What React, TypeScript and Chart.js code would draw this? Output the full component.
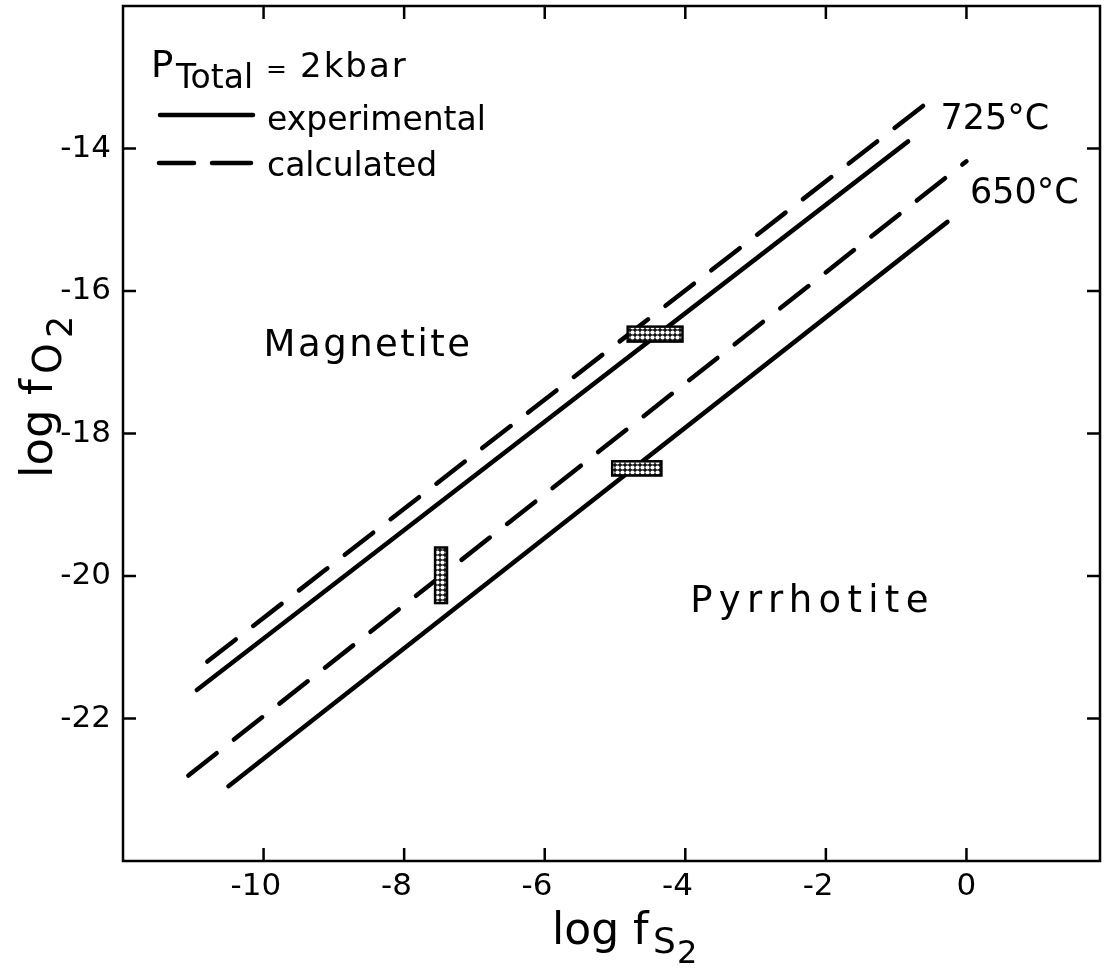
import React, { useEffect, useRef } from 'react';
import { Chart, registerables } from 'chart.js';

Chart.register(...registerables);

// ---------- data ----------
const xTickValues = [-10, -8, -6, -4, -2, 0];
const yTickValues = [-22, -20, -18, -16, -14];
const xMin = -12;
const xMax = 1.9;
const yMin = -24;
const yMax = -12;

// 725 °C
const exp725X = [-10.95, -0.83];
const exp725Y = [-21.6, -13.9];
const calc725X = [-10.8, -0.55];
const calc725Y = [-21.2, -13.35];
// 650 °C
const exp650X = [-10.5, -0.27];
const exp650Y = [-22.95, -15.03];
const calc650X = [-11.07, 0.0];
const calc650Y = [-22.8, -14.18];

// shaded experimental brackets
const boxXMin = [-4.82, -5.04, -7.56];
const boxXMax = [-4.04, -4.34, -7.39];
const boxYMin = [-16.71, -18.59, -20.38];
const boxYMax = [-16.5, -18.39, -19.6];

// in-plot labels
const regionLabels = ['Magnetite', 'Pyrrhotite'];
const regionX = [-10.0, -3.93];
const regionY = [-16.91, -20.5];
const regionSpacing = [2.5, 6.3];

const tempLabels = ['725°C', '650°C'];
const tempX = [-0.37, 0.05];
const tempY = [-13.6, -14.64];

const legendLabels = ['experimental', 'calculated'];

const FONT = '"DejaVu Sans", "Liberation Sans", sans-serif';

function toPoints(xs: number[], ys: number[]) {
  return xs.map((x, i) => ({ x, y: ys[i] }));
}

function makePattern(ctx: CanvasRenderingContext2D) {
  const c = document.createElement('canvas');
  c.width = 5;
  c.height = 5;
  const p = c.getContext('2d')!;
  p.fillStyle = '#111';
  p.fillRect(0, 0, 5, 5);
  p.fillStyle = '#fff';
  p.beginPath();
  p.arc(2.5, 2.5, 2.1, 0, Math.PI * 2);
  p.fill();
  return ctx.createPattern(c, 'repeat');
}

const decorPlugin = {
  id: 'decor',
  afterDatasetsDraw(chart: any) {
    const ctx: CanvasRenderingContext2D = chart.ctx;
    const xs = chart.scales.x;
    const ys = chart.scales.y;
    ctx.save();
    const pat = makePattern(ctx);
    for (let i = 0; i < boxXMin.length; i++) {
      const x0 = xs.getPixelForValue(boxXMin[i]);
      const x1 = xs.getPixelForValue(boxXMax[i]);
      const y0 = ys.getPixelForValue(boxYMax[i]);
      const y1 = ys.getPixelForValue(boxYMin[i]);
      ctx.fillStyle = pat || '#999';
      ctx.fillRect(x0, y0, x1 - x0, y1 - y0);
      ctx.lineWidth = 2.5;
      ctx.strokeStyle = '#000';
      ctx.strokeRect(x0, y0, x1 - x0, y1 - y0);
    }
    ctx.restore();
  },
  afterDraw(chart: any) {
    const ctx: CanvasRenderingContext2D = chart.ctx;
    const xs = chart.scales.x;
    const ys = chart.scales.y;
    const a = chart.chartArea;
    ctx.save();
    ctx.strokeStyle = '#000';
    ctx.fillStyle = '#000';
    ctx.lineWidth = 2.5;
    ctx.lineCap = 'butt';
    // frame
    ctx.strokeRect(a.left, a.top, a.right - a.left, a.bottom - a.top);
    // inward ticks on all sides
    const tl = 13;
    ctx.beginPath();
    xs.ticks.forEach((t: any) => {
      const px = xs.getPixelForValue(t.value);
      ctx.moveTo(px, a.bottom);
      ctx.lineTo(px, a.bottom - tl);
      ctx.moveTo(px, a.top);
      ctx.lineTo(px, a.top + tl);
    });
    ys.ticks.forEach((t: any) => {
      const py = ys.getPixelForValue(t.value);
      ctx.moveTo(a.left, py);
      ctx.lineTo(a.left + tl, py);
      ctx.moveTo(a.right, py);
      ctx.lineTo(a.right - tl, py);
    });
    ctx.stroke();

    // region labels
    ctx.textBaseline = 'alphabetic';
    ctx.textAlign = 'left';
    ctx.font = `37px ${FONT}`;
    regionLabels.forEach((s, i) => {
      (ctx as any).letterSpacing = `${regionSpacing[i]}px`;
      ctx.fillText(s, xs.getPixelForValue(regionX[i]), ys.getPixelForValue(regionY[i]));
    });
    (ctx as any).letterSpacing = '0px';

    // temperature labels
    ctx.textBaseline = 'middle';
    ctx.font = `35px ${FONT}`;
    tempLabels.forEach((s, i) => {
      ctx.fillText(s, xs.getPixelForValue(tempX[i]), ys.getPixelForValue(tempY[i]));
    });

    // legend block
    ctx.textBaseline = 'alphabetic';
    ctx.font = `37px ${FONT}`;
    ctx.fillText('P', 151, 77);
    ctx.font = `33px ${FONT}`;
    ctx.fillText('Total', 176, 88);
    ctx.font = `25px ${FONT}`;
    ctx.fillText('=', 266, 77);
    ctx.font = `34px ${FONT}`;
    (ctx as any).letterSpacing = '2px';
    ctx.fillText('2kbar', 300, 77);
    (ctx as any).letterSpacing = '0px';

    ctx.lineWidth = 4.5;
    ctx.lineCap = 'round';
    ctx.beginPath();
    ctx.moveTo(160, 115);
    ctx.lineTo(253, 115);
    ctx.stroke();
    ctx.beginPath();
    ctx.moveTo(159, 163);
    ctx.lineTo(194, 163);
    ctx.moveTo(212, 163);
    ctx.lineTo(251, 163);
    ctx.stroke();
    ctx.font = `33px ${FONT}`;
    ctx.fillText(legendLabels[0], 267, 130);
    ctx.fillText(legendLabels[1], 267, 176);

    // x axis title: log f_S2
    ctx.font = `44px ${FONT}`;
    ctx.fillText('log f', 552, 944);
    ctx.font = `36px ${FONT}`;
    ctx.fillText('S', 653, 953);
    ctx.font = `32px ${FONT}`;
    ctx.fillText('2', 677, 963);

    // y axis title: log f_O2 (rotated)
    ctx.translate(52, 478);
    ctx.rotate(-Math.PI / 2);
    ctx.font = `45px ${FONT}`;
    ctx.fillText('log f', 0, 0);
    ctx.font = `39px ${FONT}`;
    ctx.fillText('O', 104, 9);
    ctx.font = `35px ${FONT}`;
    ctx.fillText('2', 140, 20);
    ctx.restore();
  },
};

export default function App() {
  const ref = useRef<HTMLCanvasElement>(null);
  useEffect(() => {
    if (!ref.current) return;
    const solid = (xs: number[], ys: number[]) => ({
      data: toPoints(xs, ys),
      showLine: true,
      borderColor: '#000',
      borderWidth: 4.5,
      pointRadius: 0,
      borderCapStyle: 'round' as const,
      fill: false,
    });
    const dashed = (xs: number[], ys: number[]) => ({
      ...solid(xs, ys),
      borderDash: [36, 22],
    });
    const chart = new Chart(ref.current, {
      type: 'scatter',
      data: {
        datasets: [
          { label: '725 experimental', ...solid(exp725X, exp725Y) },
          { label: '725 calculated', ...dashed(calc725X, calc725Y) },
          { label: '650 experimental', ...solid(exp650X, exp650Y) },
          { label: '650 calculated', ...dashed(calc650X, calc650Y) },
        ],
      },
      options: {
        animation: false,
        responsive: false,
        layout: { padding: { left: 0, top: 6, right: 9, bottom: 0 } },
        plugins: { legend: { display: false }, tooltip: { enabled: false } },
        scales: {
          x: {
            type: 'linear',
            min: xMin,
            max: xMax,
            afterBuildTicks: (s: any) => {
              s.ticks = xTickValues.map((v) => ({ value: v }));
            },
            afterFit: (s: any) => {
              s.height = 107;
              s.paddingLeft = 0;
              s.paddingRight = 0;
            },
            grid: { display: false, drawTicks: false },
            border: { display: false },
            ticks: {
              color: '#000',
              padding: 7,
              font: { family: FONT, size: 31 },
              maxRotation: 0,
              // en-space after negative labels so the digits sit centred on the tick
              callback: (v: any) => (Number(v) < 0 ? `${v}\u2002` : String(v)),
            },
          },
          y: {
            type: 'linear',
            min: yMin,
            max: yMax,
            afterBuildTicks: (s: any) => {
              s.ticks = yTickValues.map((v) => ({ value: v }));
            },
            afterFit: (s: any) => {
              s.width = 123;
              s.paddingTop = 0;
              s.paddingBottom = 0;
            },
            grid: { display: false, drawTicks: false },
            border: { display: false },
            ticks: {
              color: '#000',
              padding: 12,
              font: { family: FONT, size: 31 },
              callback: (v: any) => String(v),
            },
          },
        },
      },
      plugins: [decorPlugin],
    });
    return () => chart.destroy();
  }, []);
  return (
    <div style={{ position: 'absolute', left: 0, top: 0, width: 1109, height: 968, background: '#fff' }}>
      <canvas ref={ref} width={1109} height={968} style={{ display: 'block' }} />
    </div>
  );
}
